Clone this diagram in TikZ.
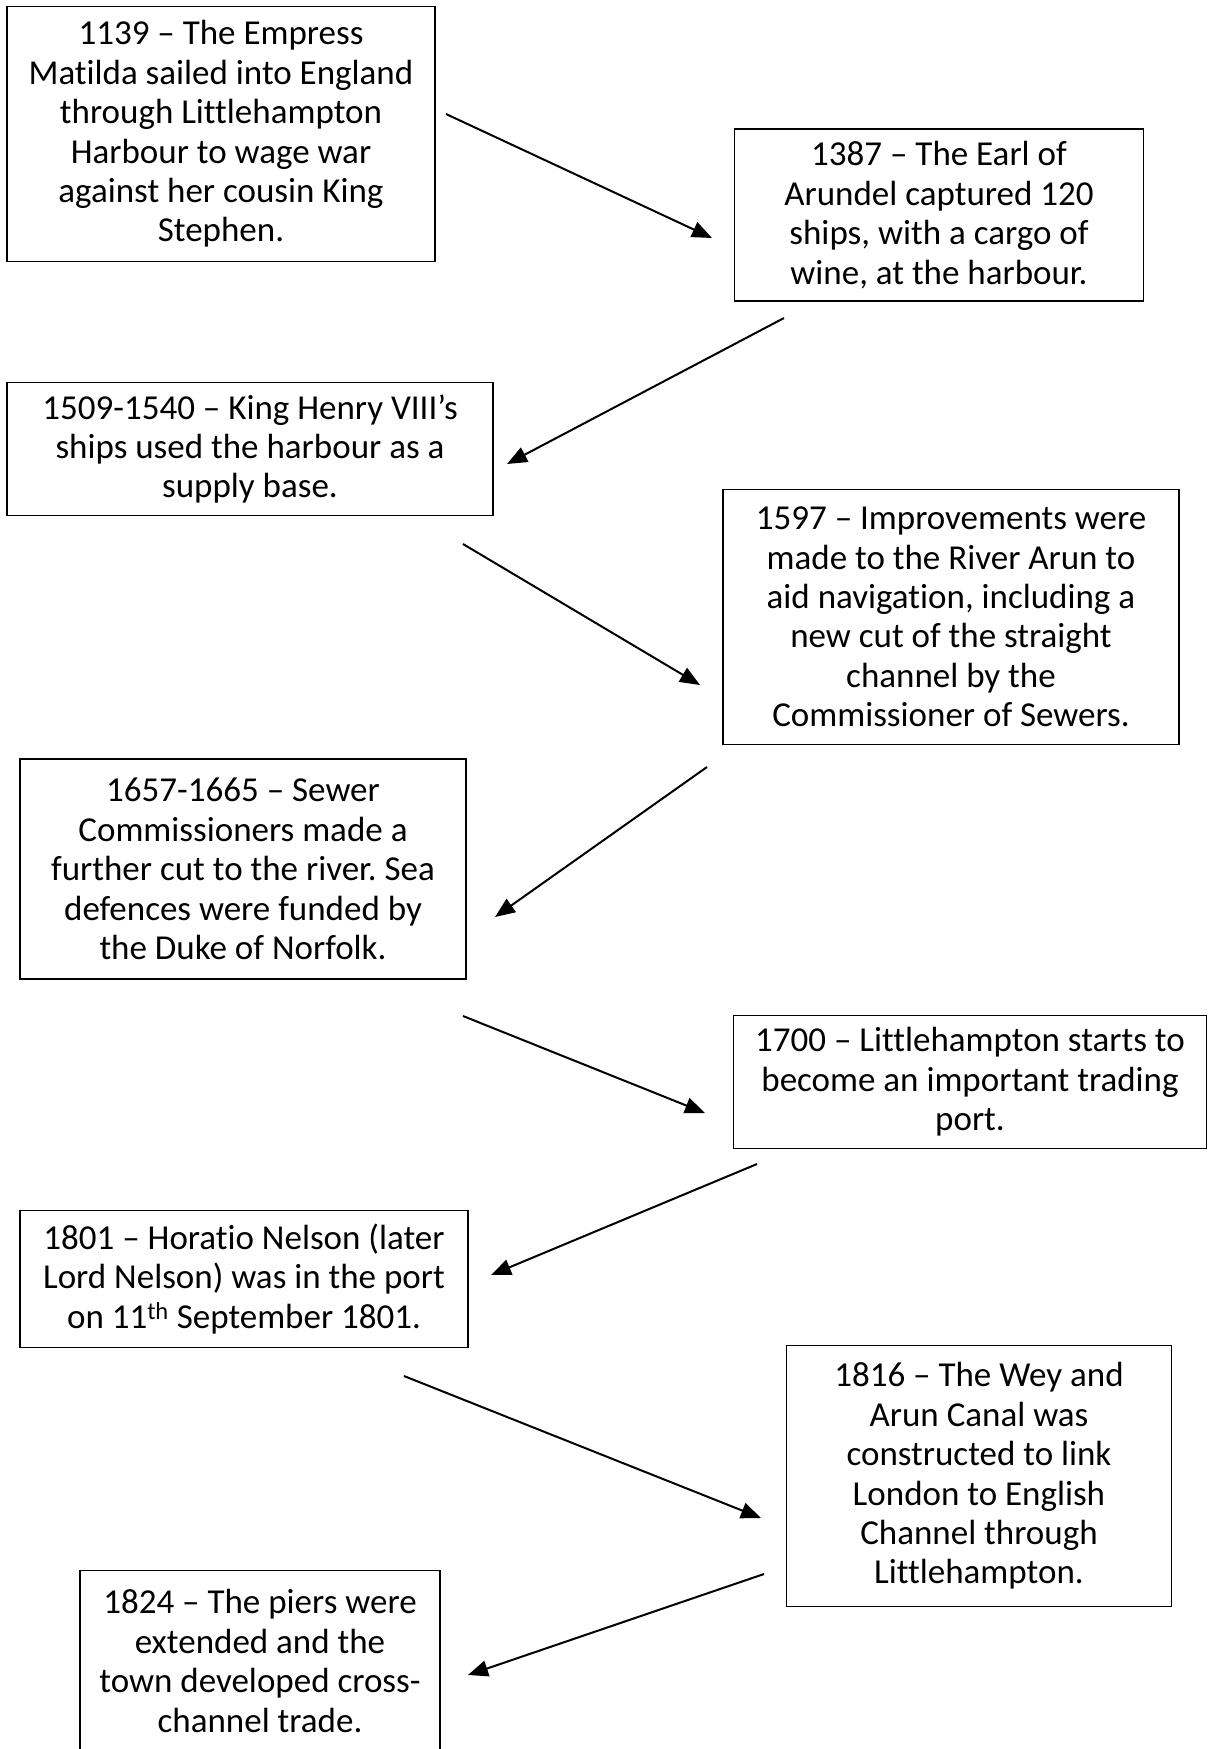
\documentclass[tikz,border=0pt]{standalone}
\usepackage{fontspec}
\setmainfont[Ligatures={TeX,NoCommon}]{Carlito}
\usepackage{tikz}
\usetikzlibrary{arrows.meta}
\frenchspacing

\begin{document}
\begin{tikzpicture}[x=1pt,y=-1pt,
  event/.style={draw, line width=1.3pt, align=center, inner sep=0pt,
    font=\fontsize{35}{39.4}\selectfont},
  link/.style={line width=2pt, -{Triangle[length=20pt,width=16pt]}}]
\useasboundingbox (0,0) rectangle (1208,1749);
\node [event, minimum width=428pt, minimum height=255pt] (e1139) at (221,134) {1139 – The Empress\\Matilda sailed into England\\through Littlehampton\\Harbour to wage war\\against her cousin King\\Stephen.};
\node [event, minimum width=409pt, minimum height=172pt] (e1387) at (939,215) {1387 – The Earl of\\Arundel captured 120\\ships, with a cargo of\\wine, at the harbour.};
\node [event, minimum width=486pt, minimum height=133pt] (e1509) at (250,449) {1509-1540 – King Henry VIII’s\\ships used the harbour as a\\supply base.};
\node [event, minimum width=456pt, minimum height=255pt] (e1597) at (951,617) {1597 – Improvements were\\made to the River Arun to\\aid navigation, including a\\new cut of the straight\\channel by the\\Commissioner of Sewers.};
\node [event, minimum width=446pt, minimum height=220pt] (e1657) at (243,869) {1657-1665 – Sewer\\Commissioners made a\\further cut to the river. Sea\\defences were funded by\\the Duke of Norfolk.};
\node [event, minimum width=473pt, minimum height=133pt] (e1700) at (970,1082) {1700 – Littlehampton starts to\\become an important trading\\port.};
\node [event, minimum width=448pt, minimum height=137pt] (e1801) at (244,1279) {1801 – Horatio Nelson (later\\Lord Nelson) was in the port\\on 11\textsuperscript{th} September 1801.};
\node [event, minimum width=385pt, minimum height=261pt] (e1816) at (979,1476) {1816 – The Wey and\\Arun Canal was\\constructed to link\\London to English\\Channel through\\Littlehampton.};
\node [event, minimum width=360pt, minimum height=181pt] (e1824) at (260,1661) {1824 – The piers were\\extended and the\\town developed cross-\\channel trade.};
% arrow ends
\coordinate (a1) at (446,114);  \coordinate (b1) at (712,238);
\coordinate (a2) at (784,318);  \coordinate (b2) at (507,464);
\coordinate (a3) at (463,544);  \coordinate (b3) at (700,685);
\coordinate (a4) at (707,767);  \coordinate (b4) at (495,917);
\coordinate (a5) at (463,1016); \coordinate (b5) at (705,1113);
\coordinate (a6) at (757,1164); \coordinate (b6) at (491,1275);
\coordinate (a7) at (404,1376); \coordinate (b7) at (761,1518);
\coordinate (a8) at (764,1574); \coordinate (b8) at (468,1675);
\foreach \i in {1,...,8}
  \draw [link] (a\i) -- (b\i);
\end{tikzpicture}
\end{document}
